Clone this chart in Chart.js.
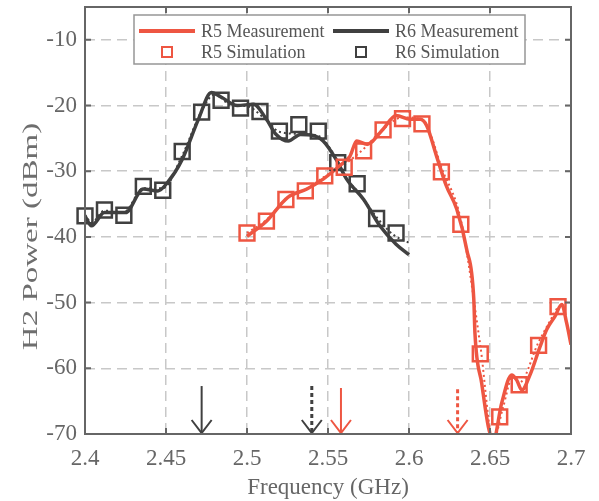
<!DOCTYPE html>
<html>
<head>
<meta charset="utf-8">
<script src="https://cdn.jsdelivr.net/npm/chart.js"></script>
<style>
html, body { margin: 0; padding: 0; background: #fff; }
</style>
</head>
<body>
<canvas id="grafico" width="599" height="501"></canvas>
<script>
// dados
var xTicks = [2.4, 2.45, 2.5, 2.55, 2.6, 2.65, 2.7]
var yTicks = [-70, -60, -50, -40, -30, -20, -10]

// R6 medicao (linha escura)
var r6MedF = [2.400, 2.404, 2.412, 2.425, 2.436, 2.445, 2.451, 2.460, 2.470, 2.478, 2.484, 2.494, 2.504, 2.512, 2.518, 2.5255, 2.533, 2.540, 2.547, 2.555, 2.5615, 2.572, 2.582, 2.592, 2.600]
var r6MedV = [-36.8, -38.3, -36.3, -36.3, -32.7, -33.0, -31.7, -28.2, -22.1, -18.0, -18.7, -20.0, -19.8, -22.1, -24.4, -25.4, -24.4, -24.5, -25.4, -28.2, -31.2, -34.3, -38.3, -41.1, -42.7]

// R6 simulacao (quadrados)
var r6SimF = [2.400, 2.412, 2.424, 2.436, 2.448, 2.460, 2.472, 2.484, 2.496, 2.508, 2.520, 2.532, 2.544, 2.556, 2.568, 2.580, 2.592]
var r6SimV = [-36.8, -35.9, -36.7, -32.3, -32.9, -27.0, -21.0, -19.2, -20.4, -20.9, -23.9, -22.9, -23.9, -28.7, -31.9, -37.2, -39.4]
// R6 simulacao (curva pontilhada)
var r6SimLinhaF = [2.400, 2.404, 2.412, 2.424, 2.436, 2.448, 2.460, 2.472, 2.480, 2.490, 2.500, 2.510, 2.520, 2.532, 2.544, 2.552, 2.560, 2.570, 2.580, 2.590, 2.600]
var r6SimLinhaV = [-36.6, -37.8, -36.0, -36.2, -32.6, -32.6, -27.6, -20.8, -18.3, -19.9, -20.1, -21.8, -24.0, -24.3, -24.6, -26.8, -30.6, -33.6, -37.0, -39.6, -40.9]

// R5 medicao (linha vermelha)
var r5MedF = [2.500, 2.512, 2.525, 2.537, 2.547, 2.557, 2.5636, 2.5677, 2.574, 2.584, 2.592, 2.6006, 2.607, 2.611, 2.617, 2.623, 2.6295, 2.6356, 2.640, 2.6407, 2.6449, 2.649, 2.652, 2.6572, 2.6634, 2.6665, 2.6696, 2.6747, 2.6809, 2.685, 2.6901, 2.6943, 2.6973, 2.700]
var r5MedV = [-39.9, -37.6, -34.0, -32.7, -31.2, -29.2, -27.7, -25.4, -25.9, -23.6, -21.5, -22.1, -22.1, -23.1, -27.7, -32.2, -35.8, -41.9, -49.5, -54.6, -62.3, -68.9, -71.0, -65.3, -61.0, -61.8, -63.3, -61.0, -56.7, -54.1, -52.1, -50.3, -53.1, -56.4]

// R5 simulacao (quadrados)
var r5SimF = [2.500, 2.512, 2.524, 2.536, 2.548, 2.560, 2.572, 2.584, 2.596, 2.608, 2.620, 2.632, 2.644, 2.656, 2.668, 2.680, 2.692]
var r5SimV = [-39.4, -37.6, -34.3, -33.0, -30.7, -29.4, -26.9, -23.7, -22.0, -22.8, -30.1, -38.1, -57.8, -67.4, -62.5, -56.5, -50.6]
// R5 simulacao (curva pontilhada)
var r5SimLinhaF = [2.500, 2.512, 2.524, 2.536, 2.548, 2.560, 2.572, 2.584, 2.596, 2.606, 2.612, 2.620, 2.632, 2.644, 2.652, 2.658, 2.664, 2.668, 2.680, 2.692]
var r5SimLinhaV = [-39.4, -37.4, -34.2, -32.8, -30.8, -29.0, -26.6, -23.6, -21.8, -22.0, -23.6, -29.4, -37.4, -56.5, -71.0, -66.0, -61.3, -62.2, -56.0, -50.6]

// setas no eixo x
var setasF = [2.472, 2.54, 2.558, 2.63]
var setasTopo = [-62.7, -62.7, -63.0, -63.2]
var setasCor = ['escuro', 'escuro', 'vermelho', 'vermelho']
var setasPontilhada = [false, true, false, true]

const vermelho = 'rgb(238, 86, 66)'
const escuro = 'rgb(64, 64, 64)'
const cinzaEixo = 'rgb(102, 102, 102)'
const fonte = 'Liberation Serif'

function pontos(fs, vs) {
    var lista = []
    for (var i = 0; i < fs.length; i++) {
        lista.push({ x: fs[i], y: vs[i] })
    }
    return lista
}

const extras = {
    id: 'extras',
    afterLayout(chart) {
        // topo da area do grafico fixo em 7px, como no original
        const a = chart.chartArea
        a.top = 7
        a.height = a.bottom - a.top
        const y = chart.scales.y
        y.top = 7
        y.height = y.bottom - y.top
        y.configure()
    },
    afterDatasetsDraw(chart) {
        const ctx = chart.ctx
        const a = chart.chartArea
        const x = chart.scales.x
        const y = chart.scales.y
        ctx.save()

        // setas
        for (var i = 0; i < setasF.length; i++) {
            const px = x.getPixelForValue(setasF[i])
            const topo = y.getPixelForValue(setasTopo[i])
            const base = a.bottom - 1
            ctx.strokeStyle = setasCor[i] == 'vermelho' ? vermelho : escuro
            ctx.lineWidth = setasPontilhada[i] ? 3 : 2
            ctx.setLineDash(setasPontilhada[i] ? [4, 3] : [])
            ctx.beginPath()
            ctx.moveTo(px, topo)
            ctx.lineTo(px, base)
            ctx.stroke()
            ctx.setLineDash([])
            ctx.lineWidth = 2
            ctx.beginPath()
            ctx.moveTo(px - 10, base - 13)
            ctx.lineTo(px, base)
            ctx.lineTo(px + 10, base - 13)
            ctx.stroke()
        }

        // caixa e ticks para dentro
        ctx.setLineDash([])
        ctx.strokeStyle = cinzaEixo
        ctx.lineWidth = 2
        ctx.strokeRect(a.left, a.top, a.right - a.left, a.bottom - a.top)
        ctx.beginPath()
        xTicks.forEach(function (v) {
            const px = x.getPixelForValue(v)
            ctx.moveTo(px, a.bottom); ctx.lineTo(px, a.bottom - 6)
            ctx.moveTo(px, a.top); ctx.lineTo(px, a.top + 6)
        })
        yTicks.forEach(function (v) {
            const py = y.getPixelForValue(v)
            ctx.moveTo(a.left, py); ctx.lineTo(a.left + 6, py)
            ctx.moveTo(a.right, py); ctx.lineTo(a.right - 6, py)
        })
        ctx.stroke()

        // titulo do eixo y (esticado como no original)
        ctx.save()
        ctx.translate(37, (a.top + a.bottom) / 2 + 16)
        ctx.rotate(-Math.PI / 2)
        ctx.scale(1.5, 1)
        ctx.font = '22px "' + fonte + '"'
        ctx.fillStyle = 'rgb(110, 110, 110)'
        ctx.textAlign = 'center'
        ctx.textBaseline = 'alphabetic'
        ctx.fillText('H2 Power (dBm)', 0, 0)
        ctx.restore()

        // legenda
        const lx = 134, ly = 15, lw = 391, lh = 49
        ctx.fillStyle = '#fff'
        ctx.fillRect(lx, ly, lw, lh)
        ctx.strokeStyle = 'rgb(150, 150, 150)'
        ctx.lineWidth = 1.5
        ctx.strokeRect(lx, ly, lw, lh)

        const linhas = [
            { cor: vermelho, tipo: 'linha', texto: 'R5 Measurement', x0: 139, y0: 31 },
            { cor: escuro, tipo: 'linha', texto: 'R6 Measurement', x0: 333, y0: 31 },
            { cor: vermelho, tipo: 'quadrado', texto: 'R5 Simulation', x0: 139, y0: 52 },
            { cor: escuro, tipo: 'quadrado', texto: 'R6 Simulation', x0: 333, y0: 52 }
        ]
        ctx.font = '18px "' + fonte + '"'
        ctx.textBaseline = 'middle'
        ctx.textAlign = 'left'
        linhas.forEach(function (item) {
            ctx.strokeStyle = item.cor
            if (item.tipo == 'linha') {
                ctx.lineWidth = 4
                ctx.beginPath()
                ctx.moveTo(item.x0, item.y0)
                ctx.lineTo(item.x0 + 56, item.y0)
                ctx.stroke()
            } else {
                ctx.lineWidth = 2
                ctx.strokeRect(item.x0 + 23, item.y0 - 5, 10, 10)
            }
            ctx.fillStyle = 'rgb(85, 85, 85)'
            ctx.fillText(item.texto, item.x0 + 62, item.y0 + 1)
        })

        ctx.restore()
    }
}

const config = {
    type: 'scatter',
    data: {
        datasets: [
            {
                label: 'R5 Simulation',
                data: pontos(r5SimF, r5SimV),
                pointStyle: 'rect',
                pointRadius: 10.5,
                pointBorderWidth: 2.5,
                borderColor: vermelho,
                backgroundColor: 'rgba(0,0,0,0)',
                showLine: false,
                clip: false
            },
            {
                label: 'R6 Simulation',
                data: pontos(r6SimF, r6SimV),
                pointStyle: 'rect',
                pointRadius: 10.5,
                pointBorderWidth: 2.5,
                borderColor: escuro,
                backgroundColor: 'rgba(0,0,0,0)',
                showLine: false,
                clip: false
            },
            {
                label: 'R5 Measurement',
                data: pontos(r5MedF, r5MedV),
                borderColor: vermelho,
                borderWidth: 3.5,
                pointRadius: 0,
                showLine: true,
                cubicInterpolationMode: 'monotone',
                clip: 0
            },
            {
                label: 'R6 Measurement',
                data: pontos(r6MedF, r6MedV),
                borderColor: escuro,
                borderWidth: 3.5,
                pointRadius: 0,
                showLine: true,
                cubicInterpolationMode: 'monotone',
                clip: 0
            },
            {
                label: 'R5 Sim curva',
                data: pontos(r5SimLinhaF, r5SimLinhaV),
                borderColor: vermelho,
                borderWidth: 2,
                borderDash: [2, 3],
                pointRadius: 0,
                showLine: true,
                cubicInterpolationMode: 'monotone',
                clip: 0
            },
            {
                label: 'R6 Sim curva',
                data: pontos(r6SimLinhaF, r6SimLinhaV),
                borderColor: escuro,
                borderWidth: 2,
                borderDash: [2, 3],
                pointRadius: 0,
                showLine: true,
                cubicInterpolationMode: 'monotone',
                clip: 0
            }
        ]
    },
    options: {
        responsive: false,
        animation: false,
        layout: { padding: { top: 7, right: 28, left: 0, bottom: 0 } },
        plugins: {
            legend: { display: false },
            tooltip: { enabled: false }
        },
        scales: {
            x: {
                type: 'linear',
                min: 2.4,
                max: 2.7,
                afterBuildTicks: function (s) { s.ticks = xTicks.map(function (v) { return { value: v } }) },
                afterFit: function (s) { s.height = 67; s.paddingLeft = 0; s.paddingRight = 0 },
                ticks: {
                    callback: function (v) { return String(parseFloat(v.toFixed(2))) },
                    font: { family: fonte, size: 23 },
                    color: cinzaEixo,
                    padding: 11,
                    maxRotation: 0,
                    autoSkip: false
                },
                grid: { color: 'rgb(200, 200, 200)', lineWidth: 1.5, drawTicks: false },
                border: { display: false, dash: [10, 6] },
                title: {
                    display: true,
                    text: 'Frequency (GHz)',
                    font: { family: fonte, size: 23, lineHeight: 1.1 },
                    color: cinzaEixo,
                    padding: 0
                }
            },
            y: {
                min: -70,
                max: -5,
                afterBuildTicks: function (s) { s.ticks = yTicks.map(function (v) { return { value: v } }) },
                afterFit: function (s) { s.width = 85 },
                ticks: {
                    callback: function (v) { return String(v) },
                    font: { family: fonte, size: 23 },
                    color: cinzaEixo,
                    padding: 8,
                    autoSkip: false
                },
                grid: { color: 'rgb(200, 200, 200)', lineWidth: 1.5, drawTicks: false },
                border: { display: false, dash: [10, 6] }
            }
        }
    },
    plugins: [extras]
}

const myChart = new Chart(document.getElementById('grafico'), config)
</script>
</body>
</html>
